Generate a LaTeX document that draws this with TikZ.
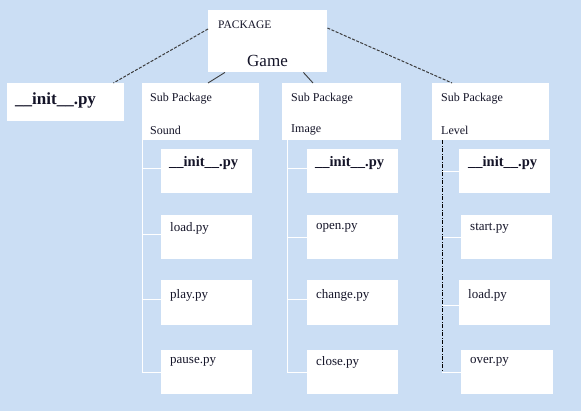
\documentclass[tikz,border=0pt]{standalone}
\usepackage{fontspec}
\setmainfont{Liberation Serif}
\definecolor{bgblue}{RGB}{203,222,244}
\definecolor{txt}{RGB}{20,20,40}
\definecolor{lnk}{RGB}{60,60,60}
\begin{document}
\begin{tikzpicture}[x=1pt,y=-1pt,
  box/.style={fill=white,draw=none,inner sep=0pt,anchor=north west},
  lbl/.style={anchor=west,inner sep=0pt,text=txt},
  small/.style={lbl,font=\fontsize{13}{13}\selectfont},
  sub/.style={lbl,font=\fontsize{12}{12}\selectfont},
  bold/.style={lbl,font=\fontsize{14.5}{14.5}\selectfont\bfseries},
  wline/.style={draw=white,line width=1pt},
  dline/.style={draw=lnk,line width=1pt,dash pattern=on 3pt off 1.5pt},
  sline/.style={draw=lnk,line width=0.9pt},
  ddline/.style={draw=black,line width=0.9pt,dash pattern=on 4pt off 1.5pt on 1pt off 1.5pt}]
\fill[bgblue] (0,0) rectangle (581,411);
\useasboundingbox (0,0) rectangle (581,411);
% top
\node[box,minimum width=119pt,minimum height=62pt] (top) at (208,10) {};
\node[lbl,font=\fontsize{11.5}{11.5}\selectfont] (tpk) at (218,25) {PACKAGE};
\node[lbl,font=\fontsize{17}{17}\selectfont] (tgm) at (247,61) {Game};
% level 1
\node[box,minimum width=117pt,minimum height=38pt] (init) at (7,83) {};
\node[lbl,font=\fontsize{17}{17}\selectfont\bfseries] (initt) at (15,100) {\_\_init\_\_.py};
\node[box,minimum width=117pt,minimum height=57pt] (sound) at (142,83) {};
\node[box,minimum width=119pt,minimum height=57pt] (image) at (282,83) {};
\node[box,minimum width=117pt,minimum height=57pt] (level) at (432,83) {};
\node[sub] (sp1) at (150,99) {Sub Package};
\node[sub] (sp2) at (291,99) {Sub Package};
\node[sub] (sp3) at (441,99) {Sub Package};
\node[sub] (sn1) at (150,130) {Sound};
\node[sub] (sn2) at (291,130) {Image};
\node[sub] (sn3) at (441,130) {Level};
% sound children
\node[box,minimum width=91pt,minimum height=44pt] (s1) at (161,149) {};
\node[box,minimum width=91pt,minimum height=44pt] (s2) at (161,215) {};
\node[box,minimum width=91pt,minimum height=45pt] (s3) at (161,280) {};
\node[box,minimum width=91pt,minimum height=44pt] (s4) at (161,350) {};
\node[bold] (s1t) at (169,163) {\_\_init\_\_.py};
\node[small] (s2t) at (170,228) {load.py};
\node[small] (s3t) at (170,295) {play.py};
\node[small] (s4t) at (170,362) {pause.py};
% image children
\node[box,minimum width=91pt,minimum height=44pt] (i1) at (307,149) {};
\node[box,minimum width=91pt,minimum height=44pt] (i2) at (307,215) {};
\node[box,minimum width=91pt,minimum height=45pt] (i3) at (307,280) {};
\node[box,minimum width=91pt,minimum height=44pt] (i4) at (307,350) {};
\node[bold] (i1t) at (315,163) {\_\_init\_\_.py};
\node[small] (i2t) at (316,228) {open.py};
\node[small] (i3t) at (316,295) {change.py};
\node[small] (i4t) at (316,362) {close.py};
% level children
\node[box,minimum width=91pt,minimum height=44pt] (l1) at (459,149) {};
\node[box,minimum width=91pt,minimum height=44pt] (l2) at (461,215) {};
\node[box,minimum width=91pt,minimum height=45pt] (l3) at (459,280) {};
\node[box,minimum width=92pt,minimum height=44pt] (l4) at (461,350) {};
\node[bold] (l1t) at (468,163) {\_\_init\_\_.py};
\node[small] (l2t) at (470,228) {start.py};
\node[small] (l3t) at (468,295) {load.py};
\node[small] (l4t) at (470,362) {over.py};
% connectors from top
\draw[dline] ([yshift=-19pt]top.north west) -- ([xshift=-11pt]init.north east);
\draw[dline] ([yshift=-18pt]top.north east) -- ([xshift=20pt]level.north west);
\draw[sline] ([xshift=17pt]top.south west) -- ([xshift=66pt]sound.north west);
\draw[sline] ([xshift=-24pt]top.south east) -- ([xshift=31pt]image.north west);
% attach points
\coordinate (s1w) at ([yshift=3pt]s1.west);
\coordinate (s2w) at ([yshift=3pt]s2.west);
\coordinate (s3w) at ([yshift=3pt]s3.west);
\coordinate (i1w) at ([yshift=3pt]i1.west);
\coordinate (i3w) at ([yshift=3pt]i3.west);
\coordinate (l3w) at ([yshift=-3pt]l3.west);
% sound tree
\coordinate (sv) at (sound.south west);
\draw[wline] (sv) -- (sv |- s4.west) -- (s4.west);
\draw[wline] (sv |- s1w) -- (s1w);
\draw[wline] (sv |- s2w) -- (s2w);
\draw[wline] (sv |- s3w) -- (s3w);
% image tree
\coordinate (iv) at ([xshift=5pt]image.south west);
\draw[wline] (iv) -- (iv |- i4.west) -- (i4.west);
\draw[wline] (iv |- i1w) -- (i1w);
\draw[wline] (iv |- i2.west) -- (i2.west);
\draw[wline] (iv |- i3w) -- (i3w);
% level tree
\coordinate (lv) at ([xshift=10pt]level.south west);
\draw[wline] (lv |- l1.west) -- (l1.west);
\draw[wline] (lv |- l2.west) -- (l2.west);
\draw[wline] (lv |- l3w) -- (l3w);
\draw[wline] (lv |- l4.west) -- (l4.west);
\draw[ddline] (lv) -- (lv |- l4.west);
\end{tikzpicture}
\end{document}
